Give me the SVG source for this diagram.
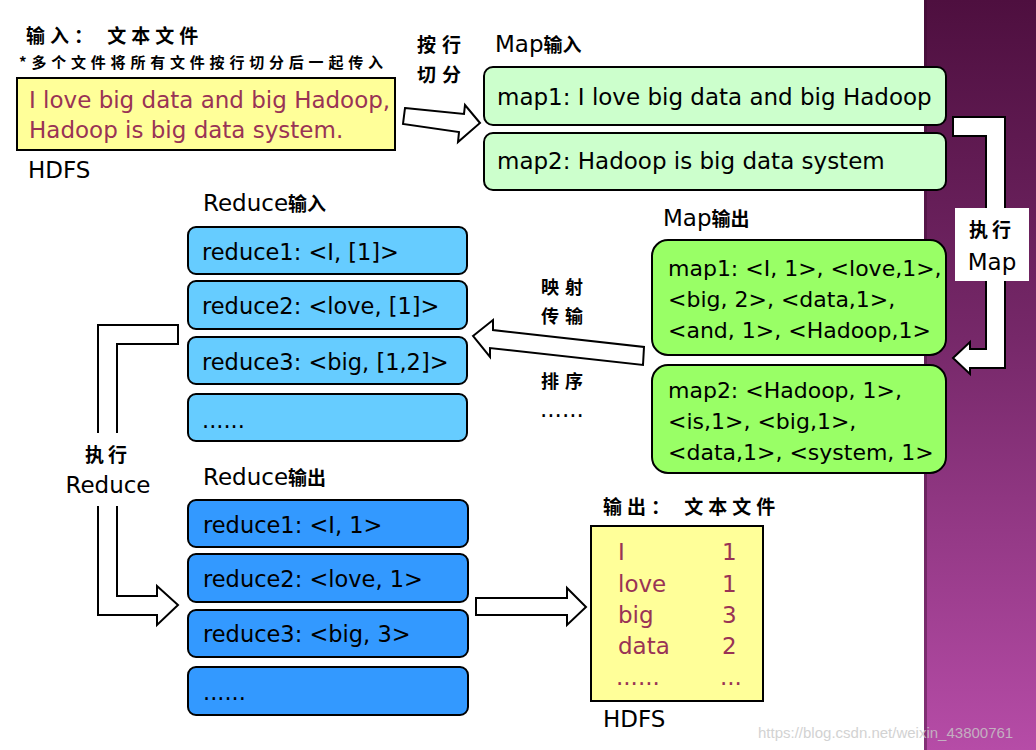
<svg xmlns="http://www.w3.org/2000/svg" width="1036" height="750" viewBox="0 0 1036 750">
<defs>
<linearGradient id="purple" x1="0" y1="0" x2="0" y2="1">
<stop offset="0" stop-color="#4e0f3f"/>
<stop offset="0.45" stop-color="#762869"/>
<stop offset="1" stop-color="#b64ca7"/>
</linearGradient>
<style>
.t{font-family:"DejaVu Sans","Noto Sans CJK SC",sans-serif;font-size:23px;fill:#000}
.s{font-size:22.5px}
.m{font-size:22px}
.r{fill:#993355}
.cj{font-family:"Noto Sans CJK SC",sans-serif;font-weight:bold;fill:#000}
.box{stroke:#000;stroke-width:2}
.arr{fill:#fff;stroke:#000;stroke-width:2;stroke-linejoin:miter}
</style>
</defs>
<rect width="1036" height="750" fill="#fff"/>
<rect x="924" y="0" width="112" height="750" fill="url(#purple)"/>
<rect x="924" y="0" width="3" height="750" fill="#3a0a30" opacity="0.4"/>

<g id="input-title">
<text class="cj" x="26" y="43" font-size="19" letter-spacing="5">输入： 文本文件</text>
<text class="cj" x="19" y="68" font-size="15" letter-spacing="4.8" font-weight="normal">*多个文件将所有文件按行切分后一起传入</text>
</g>
<g id="input-file">
<rect class="box" x="17" y="78" width="378" height="72" fill="#ffff99"/>
<text class="t r" x="29" y="108">I love big data and big Hadoop,</text>
<text class="t r" x="29" y="138">Hadoop is big data system.</text>
<text class="t" x="28" y="178">HDFS</text>
</g>

<g id="split-label">
<text class="cj" x="417" y="52" font-size="19" letter-spacing="6">按行</text>
<text class="cj" x="417" y="82" font-size="19" letter-spacing="6">切分</text>
</g>

<g id="map-input">
<text class="t" x="495" y="52">Map<tspan font-family="Noto Sans CJK SC" font-size="19" font-weight="bold">输入</tspan></text>
<rect class="box" x="484" y="67" width="462" height="58" rx="9" fill="#ccffcc"/>
<text class="t" x="497" y="105">map1: I love big data and big Hadoop</text>
<rect class="box" x="484" y="133" width="462" height="57" rx="9" fill="#ccffcc"/>
<text class="t" x="497" y="169">map2: Hadoop is big data system</text>
</g>

<g id="map-output">
<text class="t" x="663" y="226">Map<tspan font-family="Noto Sans CJK SC" font-size="19" font-weight="bold">输出</tspan></text>
<rect class="box" x="652" y="240" width="294" height="115" rx="16" fill="#99ff66"/>
<text class="t m" x="668" y="276">map1: &lt;I, 1&gt;, &lt;love,1&gt;,</text>
<text class="t m" x="668" y="307">&lt;big, 2&gt;, &lt;data,1&gt;,</text>
<text class="t m" x="668" y="338">&lt;and, 1&gt;, &lt;Hadoop,1&gt;</text>
<rect class="box" x="652" y="365" width="294" height="108" rx="16" fill="#99ff66"/>
<text class="t m" x="668" y="398">map2: &lt;Hadoop, 1&gt;,</text>
<text class="t m" x="668" y="429">&lt;is,1&gt;, &lt;big,1&gt;,</text>
<text class="t m" x="668" y="460">&lt;data,1&gt;, &lt;system, 1&gt;</text>
</g>

<g id="reduce-input">
<text class="t" x="203" y="211">Reduce<tspan font-family="Noto Sans CJK SC" font-size="19" font-weight="bold">输入</tspan></text>
<rect class="box" x="188" y="227" width="279" height="47" rx="8" fill="#66ccff"/>
<text class="t s" x="202" y="260">reduce1: &lt;I, [1]&gt;</text>
<rect class="box" x="188" y="281" width="279" height="48" rx="8" fill="#66ccff"/>
<text class="t s" x="202" y="314">reduce2: &lt;love, [1]&gt;</text>
<rect class="box" x="188" y="337" width="279" height="47" rx="8" fill="#66ccff"/>
<text class="t s" x="202" y="370">reduce3: &lt;big, [1,2]&gt;</text>
<rect class="box" x="188" y="394" width="279" height="47" rx="8" fill="#66ccff"/>
<text class="t s" x="202" y="428">......</text>
</g>

<g id="reduce-output">
<text class="t" x="203" y="485">Reduce<tspan font-family="Noto Sans CJK SC" font-size="19" font-weight="bold">输出</tspan></text>
<rect class="box" x="188" y="500" width="280" height="47" rx="8" fill="#3399ff"/>
<text class="t s" x="203" y="533">reduce1: &lt;I, 1&gt;</text>
<rect class="box" x="188" y="554" width="280" height="48" rx="8" fill="#3399ff"/>
<text class="t s" x="203" y="587">reduce2: &lt;love, 1&gt;</text>
<rect class="box" x="188" y="610" width="280" height="47" rx="8" fill="#3399ff"/>
<text class="t s" x="203" y="642">reduce3: &lt;big, 3&gt;</text>
<rect class="box" x="188" y="667" width="280" height="48" rx="8" fill="#3399ff"/>
<text class="t s" x="203" y="700">......</text>
</g>

<g id="output-file">
<text class="cj" x="603" y="514" font-size="19" letter-spacing="5">输出： 文本文件</text>
<rect class="box" x="591" y="526" width="172" height="175" fill="#ffff99"/>
<text class="t r" x="618" y="560">I</text>
<text class="t r" x="618" y="592">love</text>
<text class="t r" x="618" y="623">big</text>
<text class="t r" x="618" y="654">data</text>
<text class="t r" x="616" y="685">......</text>
<text class="t r" x="722" y="560">1</text>
<text class="t r" x="722" y="592">1</text>
<text class="t r" x="722" y="623">3</text>
<text class="t r" x="722" y="654">2</text>
<text class="t r" x="720" y="685">...</text>
<text class="t" x="603" y="727">HDFS</text>
</g>

<g id="connectors">
<polygon class="arr" points="405,108 464,114 465,105 480,123 458,142 459,132 403,124"/>
<polygon class="arr" points="953,117 1005,117 1005,368 970,368 970,374 953,358 970,342 970,349 986,349 986,136 953,136"/>
<rect x="955" y="208" width="74" height="73" fill="#fff"/>
<text class="cj" x="992" y="237" font-size="19" text-anchor="middle" letter-spacing="4" font-weight="normal">执行</text>
<text class="t" x="992" y="270" text-anchor="middle">Map</text>
<polygon class="arr" points="473,336 493,320 493,330 644,347 643,365 490,348 490,357"/>
<text class="cj" x="541" y="294" font-size="18" letter-spacing="6" font-weight="normal">映射</text>
<text class="cj" x="541" y="323" font-size="18" letter-spacing="6" font-weight="normal">传输</text>
<text class="cj" x="541" y="388" font-size="18" letter-spacing="6" font-weight="normal">排序</text>
<text class="t" x="540" y="417" font-size="19">......</text>
<polygon class="arr" points="178,325 98,325 98,615 157,615 157,625 178,605 157,586 157,596 117,596 117,344 178,344"/>
<rect x="60" y="433" width="95" height="73" fill="#fff"/>
<text class="cj" x="108" y="462" font-size="19" text-anchor="middle" letter-spacing="4" font-weight="normal">执行</text>
<text class="t" x="108" y="493" text-anchor="middle">Reduce</text>
<polygon class="arr" points="476,598 567,598 567,588 586,607 567,625 567,615 476,615"/>
</g>
<text x="758" y="738" font-family="Liberation Sans, sans-serif" font-size="15" fill="#c8c8c8" opacity="0.8">https://blog.csdn.net/weixin_43800761</text>
</svg>
